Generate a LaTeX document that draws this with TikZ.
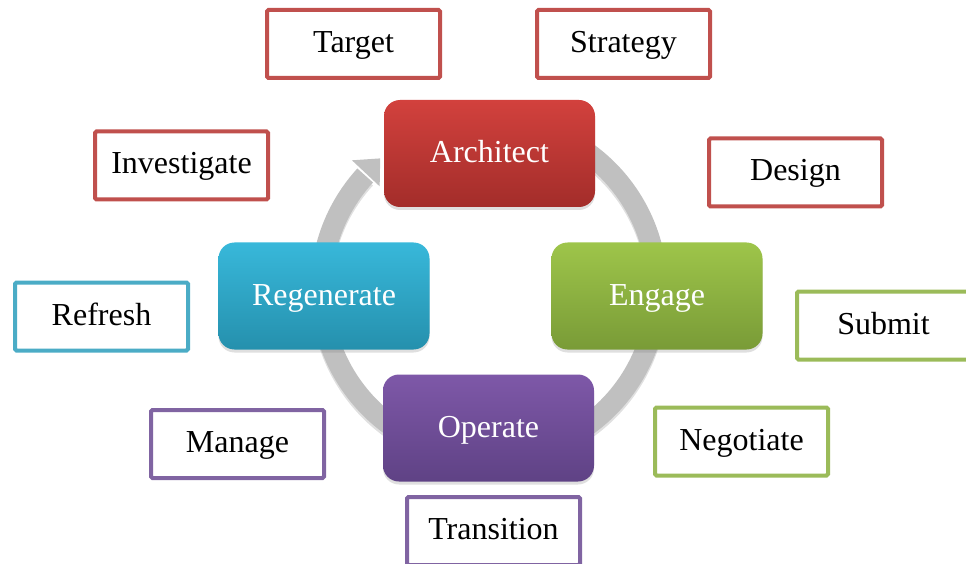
\documentclass[tikz,border=0pt]{standalone}
\usepackage{fontspec}
\setmainfont{Liberation Serif}
\usetikzlibrary{shadows,calc}
\definecolor{ringgrey}{HTML}{C0C0C0}
\definecolor{oRed}{HTML}{C0504D}
\definecolor{oGreen}{HTML}{9BBB59}
\definecolor{oPurple}{HTML}{8064A2}
\definecolor{oCyan}{HTML}{4BACC6}
\definecolor{redTop}{HTML}{D2413D}
\definecolor{redBot}{HTML}{A32D2A}
\definecolor{greenTop}{HTML}{9EC54A}
\definecolor{greenBot}{HTML}{799B37}
\definecolor{purpleTop}{HTML}{7E58A8}
\definecolor{purpleBot}{HTML}{5F4285}
\definecolor{cyanTop}{HTML}{38B8DA}
\definecolor{cyanBot}{HTML}{2590AD}
\begin{document}
\begin{tikzpicture}[x=1pt,y=1pt,
  mainbox/.style={rounded corners=16pt, minimum width=211pt, minimum height=107pt,
    inner sep=0pt, text=white, font=\fontsize{32pt}{36pt}\selectfont,
    text height=25pt, text depth=6pt,
    drop shadow={shadow xshift=0pt, shadow yshift=-3pt, opacity=0.25}},
  outbox/.style={draw=#1, line width=4pt, rounded corners=1.5pt, fill=white,
    minimum width=173pt, minimum height=68pt, inner sep=0pt,
    text height=24pt, text depth=7pt,
    font=\fontsize{32pt}{36pt}\selectfont}]
\useasboundingbox (0,0) rectangle (966,563);
% cycle ring
\coordinate (c) at (489,274);
\draw[line width=21pt, black!12] ([yshift=-3pt]c) ++(80:168) arc[start angle=80, end angle=-222.5, radius=168];
\draw[line width=21pt, ringgrey] (c) ++(80:168) arc[start angle=80, end angle=-222.5, radius=168];
\fill[ringgrey] ($(c)+(136.8:150)$) -- ($(c)+(136.8:188)$) -- ($(c)+(129.8:170)$) -- cycle;
% main boxes
\node[mainbox, top color=redTop, bottom color=redBot] (arch) at (489.5,409.5) {Architect};
\node[mainbox, top color=greenTop, bottom color=greenBot] (eng) at (657,267) {Engage};
\node[mainbox, top color=purpleTop, bottom color=purpleBot] (oper) at (488.5,135) {Operate};
\node[mainbox, top color=cyanTop, bottom color=cyanBot] (regen) at (324,267) {Regenerate};
% outline boxes
\node[outbox=oRed] (target) at (353.5,519) {Target};
\node[outbox=oRed] (strategy) at (623.5,519) {Strategy};
\node[outbox=oRed] (investigate) at (181.5,397.5) {Investigate};
\node[outbox=oRed] (design) at (795.5,390.5) {Design};
\node[outbox=oCyan] (refresh) at (101.5,246.5) {Refresh};
\node[outbox=oGreen] (submit) at (883.5,237.5) {Submit};
\node[outbox=oPurple] (manage) at (237.5,119) {Manage};
\node[outbox=oGreen] (negotiate) at (741.5,121.5) {Negotiate};
\node[outbox=oPurple] (transition) at (493.5,32) {Transition};
\end{tikzpicture}
\end{document}
